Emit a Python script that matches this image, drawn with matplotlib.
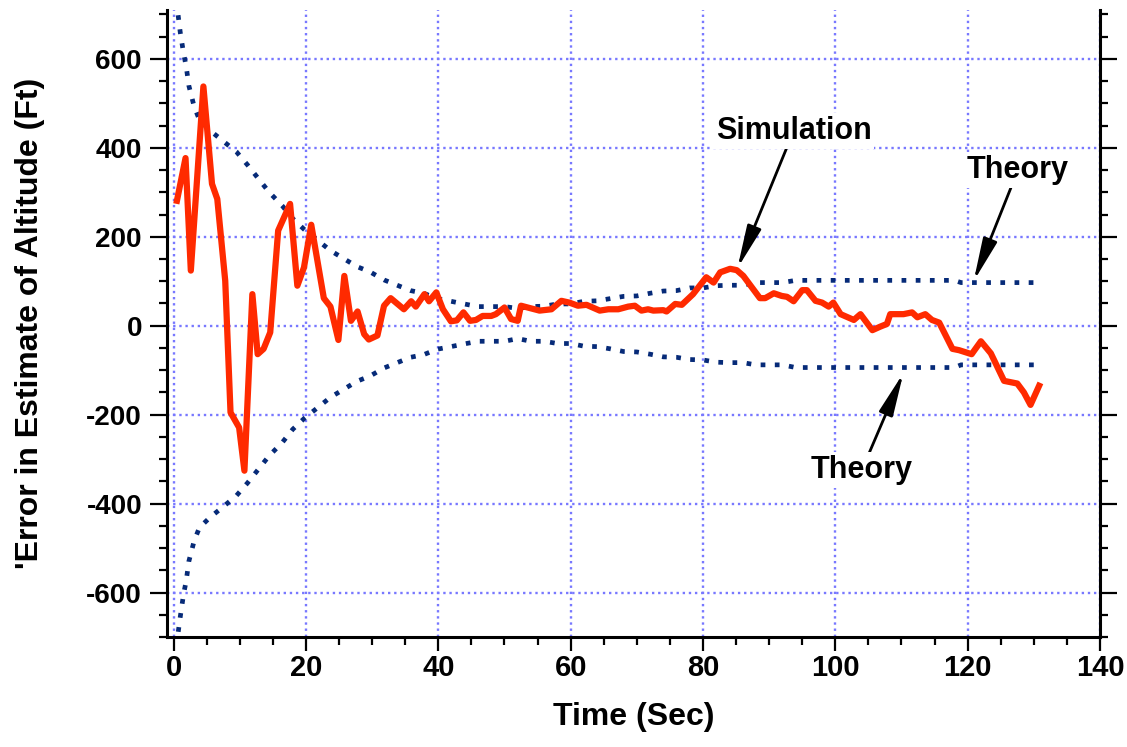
import matplotlib
matplotlib.use("Agg")
import matplotlib.pyplot as plt
from matplotlib.ticker import MultipleLocator

plt.rcParams['axes.unicode_minus'] = False

# simulation error
t_sim = [0.5, 1.8, 2.6, 4.5, 5.8, 6.6, 7.8, 8.6, 9.9, 10.7, 11.9, 12.7, 13.6, 14.6,
         15.8, 17.6, 18.7, 19.7, 20.8, 22.7, 23.7, 24.9, 25.8, 26.8, 27.8, 28.8,
         29.5, 30.8, 31.8, 32.8, 34.8, 35.9, 36.6, 37.9, 38.6, 39.7, 40.7, 41.9,
         42.8, 43.8, 44.8, 45.7, 46.7, 48.0, 48.7, 50.0, 51.0, 52.0, 52.5, 53.5,
         55.3, 57.1, 58.6, 59.8, 61.1, 62.4, 64.4, 65.7, 67.2, 68.7, 69.7, 70.7,
         71.7, 72.5, 74.0, 74.5, 75.8, 76.8, 78.5, 80.5, 81.6, 82.6, 84.1, 85.1,
         86.1, 88.6, 89.4, 90.7, 91.9, 92.7, 93.7, 95.0, 95.7, 97.0, 98.0, 99.0,
         99.7, 100.8, 102.8, 103.8, 105.6, 106.8, 107.8, 108.3, 110.3, 111.6,
         112.4, 113.6, 114.6, 115.7, 117.7, 118.7, 120.6, 122.0, 123.5, 125.5,
         127.5, 128.5, 129.5, 130.8]
err_sim = [281, 377, 124, 538, 319, 285, 101, -195, -229, -326, 71, -64, -52, -15,
           214, 274, 90, 131, 227, 62, 43, -32, 112, 11, 32, -19,
           -31, -22, 45, 62, 37, 55, 43, 71, 55, 75, 37, 10,
           12, 30, 11, 13, 22, 22, 26, 41, 15, 11, 45, 41,
           34, 37, 56, 52, 45, 47, 34, 37, 37, 43, 45, 34,
           37, 34, 35, 32, 49, 47, 71, 109, 97, 120, 128, 125,
           112, 62, 62, 73, 67, 65, 55, 80, 80, 56, 52, 43,
           52, 26, 13, 26, -10, -2, 4, 26, 26, 30,
           19, 26, 13, 7, -52, -55, -64, -35, -62, -124,
           -130, -150, -178, -135]

# theory bounds
t_up = [0.5, 0.65, 1.0, 1.5, 1.9, 2.3, 3.1, 3.9, 5.5, 7.5, 9.5, 11.2, 12.8, 14.4,
        16.4, 18.0, 19.7, 21.7, 23.7, 25.7, 27.7, 29.7, 31.8, 33.8, 35.8, 37.8,
        39.8, 41.9, 43.9, 46, 50, 52, 54, 56, 58, 60, 62, 64, 66, 68, 70, 72, 74,
        76, 78, 80, 82, 84, 86, 88, 92, 94, 118, 119, 130]
err_up = [730, 702, 660, 613, 583, 540, 493, 463, 439, 415, 391, 361, 331, 301,
          270, 241, 217, 193, 169, 151, 133, 121, 103, 91, 79, 73,
          61, 55, 49, 43, 43, 39, 43, 44, 49, 49, 55, 56, 61, 66, 67, 73, 78,
          79, 85, 85, 90, 91, 91, 97, 97, 102, 102, 97, 97]
t_lo = [0.5, 0.65, 1.0, 1.5, 1.9, 2.3, 3.1, 3.9, 5.5, 7.5, 9.5, 11.2, 12.8, 14.4,
        16.4, 18.0, 19.7, 21.7, 23.7, 25.7, 27.7, 29.7, 31.8, 33.8, 35.8, 37.8,
        39.8, 41.9, 43.9, 46, 50, 52, 54, 56, 58, 60, 62, 64, 66, 68, 70, 72, 74,
        76, 78, 80, 82, 84, 86, 88, 92, 94, 118, 119, 130]
err_lo = [-720, -694, -655, -604, -574, -530, -484, -454, -431, -407, -382, -353,
          -323, -293, -263, -233, -209, -185, -161, -143, -125, -113, -95, -83,
          -71, -65, -53, -47, -41, -35, -35, -29, -35, -35, -40, -40, -46, -47,
          -52, -58, -59, -64, -70, -71, -76, -77, -82, -83, -83, -88, -88, -94,
          -94, -88, -88]

red = '#ff2a00'
navy = '#062a78'
grid_blue = '#7878ff'
plain = ['Liberation Sans', 'DejaVu Sans']

fig = plt.figure(figsize=(11.27, 7.47), dpi=100)
ax = fig.add_axes([167 / 1127, 110 / 747, 933 / 1127, 627 / 747])

ax.plot(t_up, err_up, color=navy, lw=3.4, linestyle=(0, (1, 2.0)),
        dash_capstyle='butt', zorder=3)
ax.plot(t_lo, err_lo, color=navy, lw=3.4, linestyle=(0, (1, 2.0)),
        dash_capstyle='butt', zorder=3)
ax.plot(t_sim, err_sim, color=red, lw=4.5, zorder=4)

ax.set_xlim(-1, 140)
ax.set_ylim(-700, 710)
ax.xaxis.set_major_locator(MultipleLocator(20))
ax.xaxis.set_minor_locator(MultipleLocator(5))
ax.yaxis.set_major_locator(MultipleLocator(200))
ax.yaxis.set_minor_locator(MultipleLocator(50))
ax.grid(True, which='major', color=grid_blue, linestyle=(0, (1, 1.6)), lw=1.7)
ax.set_axisbelow(True)

ax.spines['top'].set_visible(False)
for s in ['left', 'right', 'bottom']:
    ax.spines[s].set_linewidth(2.2)
ax.tick_params(which='both', direction='out', width=1.6, right=True, top=False)
ax.tick_params(which='major', length=12)
ax.tick_params(which='minor', length=6)
ax.tick_params(axis='x', which='major', length=10)
ax.tick_params(axis='y', pad=6)
ax.tick_params(axis='x', pad=2)

for lab in ax.get_yticklabels():
    lab.set_family(plain)
    lab.set_fontweight('bold')
    lab.set_fontsize(20)
for lab in ax.get_xticklabels():
    lab.set_family(plain)
    lab.set_fontweight('bold')
    lab.set_fontsize(21)

ax.set_xlabel('Time (Sec)', family=plain, fontweight='bold', fontsize=23, labelpad=15)
ax.set_ylabel("'Error in Estimate of Altitude (Ft)", family=plain,
              fontweight='bold', fontsize=23, labelpad=30)

box = dict(facecolor='white', edgecolor='none', pad=2)
arrow = dict(arrowstyle='-|>,head_length=1.3,head_width=0.22', color='black',
             lw=2, shrinkA=0, shrinkB=0, mutation_scale=20)
ax.annotate('Simulation', xy=(85.2, 129), xytext=(93.7, 438), family=plain,
            fontweight='bold', fontsize=22, ha='center', va='center', bbox=box,
            arrowprops=arrow, zorder=6)
ax.annotate('Theory', xy=(120.9, 100), xytext=(127.6, 350), family=plain,
            fontweight='bold', fontsize=22, ha='center', va='center', bbox=box,
            arrowprops=arrow, zorder=6)
ax.annotate('Theory', xy=(110.3, -106), xytext=(104, -325), family=plain,
            fontweight='bold', fontsize=22, ha='center', va='center', bbox=box,
            arrowprops=arrow, zorder=6)

fig.savefig('out.png', dpi=100)
